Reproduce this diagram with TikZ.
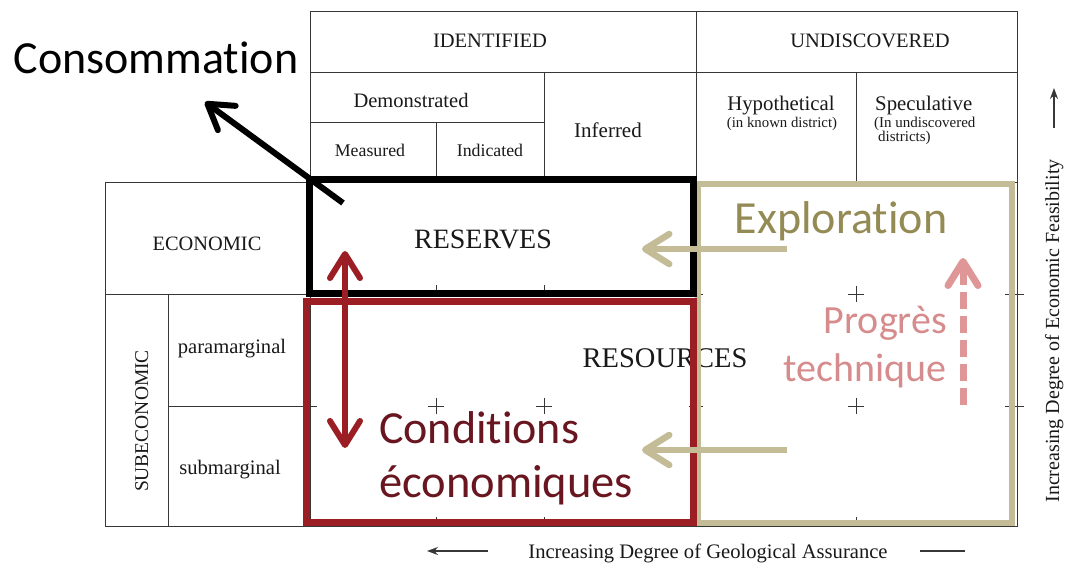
\documentclass[tikz,border=0pt]{standalone}
\usepackage{fontspec}
\setmainfont{Liberation Serif}
\newfontfamily\calibri[Ligatures=NoCommon]{Carlito}
\usetikzlibrary{arrows.meta}
\definecolor{gridline}{RGB}{55,55,55}
\definecolor{inktext}{RGB}{25,25,25}
\definecolor{boxred}{RGB}{155,30,36}
\definecolor{condred}{RGB}{105,22,32}
\definecolor{tanbox}{RGB}{196,188,150}
\definecolor{olivetext}{RGB}{148,138,84}
\definecolor{pinkarrow}{RGB}{222,150,150}
\definecolor{pinktext}{RGB}{214,140,140}
\begin{document}
\begin{tikzpicture}[x=1pt,y=-1pt,
  cell/.style={draw=gridline,line width=0.9pt},
  tickmark/.style={draw=gridline,line width=0.8pt},
  lbl/.style={inner sep=0pt,text=inktext,font=\fontsize{#1}{#1}\selectfont},
  big/.style={inner sep=0pt,font=\calibri\fontsize{#1}{#1}\selectfont},
  chev/.style={-{Straight Barb[length=24pt,width=30pt,round]}}
]
\useasboundingbox[fill=white] (0,0) rectangle (1067,563);

% ---- table grid ----
\draw[cell] (310,11) rectangle (1017,182);
\draw[cell] (310,72) -- (1017,72);
\draw[cell] (696,11) -- (696,182);
\draw[cell] (310,122) -- (544,122);
\draw[cell] (544,72) -- (544,182);
\draw[cell] (436,122) -- (436,182);
\draw[cell] (856,72) -- (856,184);
\draw[cell] (105,182) rectangle (310,526);
\draw[cell] (105,294) -- (310,294);
\draw[cell] (168,294) -- (168,526);
\draw[cell] (168,406) -- (310,406);
\draw[cell] (310,182) rectangle (1017,526);

% ---- ticks and crosses inside the resource area ----
\foreach \yy in {294,406} {
  \draw[tickmark] (303,\yy) -- (317,\yy);
  \draw[tickmark] (689,\yy) -- (703,\yy);
  \draw[tickmark] (1005,\yy) -- (1024,\yy);
}
\foreach \xx in {436,544} \draw[tickmark] (\xx,285) -- (\xx,294);
\foreach \xx in {436,544,856} \draw[tickmark] (\xx,517) -- (\xx,526);
\foreach \xx/\yy in {436/406,544/406,856/294,856/406} {
  \draw[tickmark] (\xx-8,\yy) -- (\xx+8,\yy);
  \draw[tickmark] (\xx,\yy-8) -- (\xx,\yy+8);
}

% ---- table labels ----
\node[lbl=20.5,anchor=base] (identified) at (490,47) {IDENTIFIED};
\node[lbl=20.5,anchor=base] (undiscovered) at (870,47) {UNDISCOVERED};
\node[lbl=20.5,anchor=base] (demonstrated) at (411,107) {Demonstrated};
\node[lbl=17.8,anchor=base] (measured) at (370,156) {Measured};
\node[lbl=17.8,anchor=base] (indicated) at (490,156) {Indicated};
\node[lbl=21,anchor=base] (inferred) at (608,137) {Inferred};
\node[lbl=20.8,anchor=base] (hypothetical) at (781,110) {Hypothetical};
\node[lbl=14.8,anchor=base] (knowndistrict) at (782,127) {(in known district)};
\node[lbl=20.8,anchor=base west] (speculative) at (875,110) {Speculative};
\node[lbl=15,anchor=base west] (undiscline) at (874,127) {(In undiscovered};
\node[lbl=15,anchor=base west] (districtsline) at (878,141) {districts)};
\node[lbl=20.4,anchor=base] (economic) at (207,250) {ECONOMIC};
\node[lbl=20.6,anchor=base] (paramarginal) at (232,353) {paramarginal};
\node[lbl=20.6,anchor=base] (submarginal) at (230,474) {submarginal};
\node[lbl=19.5,anchor=base,rotate=90] (subeconomic) at (148,421) {SUBECONOMIC};
\node[lbl=28,anchor=base] (reserves) at (483,248) {RESERVES};
\node[lbl=28.5,anchor=base] (resources) at (665,367) {RESOURCES};

% ---- axes ----
\node[lbl=20.6,anchor=base] (geolaxis) at (708,558) {Increasing Degree of Geological Assurance};
\node[lbl=20,anchor=base,rotate=90] (econaxis) at (1059,331) {Increasing Degree of Economic Feasibility};
\coordinate (geolA) at (488,551); \coordinate (geolB) at (427,551);
\coordinate (geolC) at (920,551); \coordinate (geolD) at (965,551);
\coordinate (econA) at (1054,128); \coordinate (econB) at (1054,88);
\draw[gridline,line width=1.4pt,-{Stealth[length=11pt,width=8pt]}] (geolA) -- (geolB);
\draw[gridline,line width=1.4pt] (geolC) -- (geolD);
\draw[gridline,line width=1.4pt,-{Stealth[length=11pt,width=8pt]}] (econA) -- (econB);

% ---- highlighted zones ----
\draw[tanbox,line width=6.5pt] (698,184) rectangle (1012,523);
\draw[boxred,line width=7pt] (306,301) rectangle (693,522);
\draw[black,line width=7pt] (309,179) rectangle (693,293);

% ---- annotations ----
\node[big=46,anchor=base] (consommation) at (156,73) {Consommation};
\node[big=46,anchor=base,text=olivetext] (exploration) at (841,233) {Exploration};
\node[big=46,anchor=base west,text=condred] (conditions) at (379,443) {Conditions};
\node[big=46.5,anchor=base west,text=condred] (economiques) at (379,497) {économiques};
\node[big=40,anchor=base east,text=pinktext] (progres) at (947,333) {Progrès};
\node[big=40,anchor=base east,text=pinktext] (technique) at (947,381) {technique};

% ---- arrows ----
\coordinate (consTail) at (343,203); \coordinate (consHead) at (205,102);
\draw[black,line width=6pt,chev] (consTail) -- (consHead);
\coordinate (condTop) at (345,251); \coordinate (condBot) at (345,448);
\draw[boxred,line width=6pt,{Straight Barb[length=24pt,width=30pt,round]}-{Straight Barb[length=24pt,width=30pt,round]}] (condTop) -- (condBot);
\coordinate (explTailA) at (787,249); \coordinate (explHeadA) at (642,249);
\coordinate (explTailB) at (787,450); \coordinate (explHeadB) at (642,450);
\draw[tanbox,line width=6.5pt,chev] (explTailA) -- (explHeadA);
\draw[tanbox,line width=6.5pt,chev] (explTailB) -- (explHeadB);
\coordinate (progTail) at (963,405); \coordinate (progHead) at (963,258);
\draw[pinkarrow,line width=7pt,dash pattern=on 17pt off 7pt,chev] (progTail) -- (progHead);
\end{tikzpicture}
\end{document}
